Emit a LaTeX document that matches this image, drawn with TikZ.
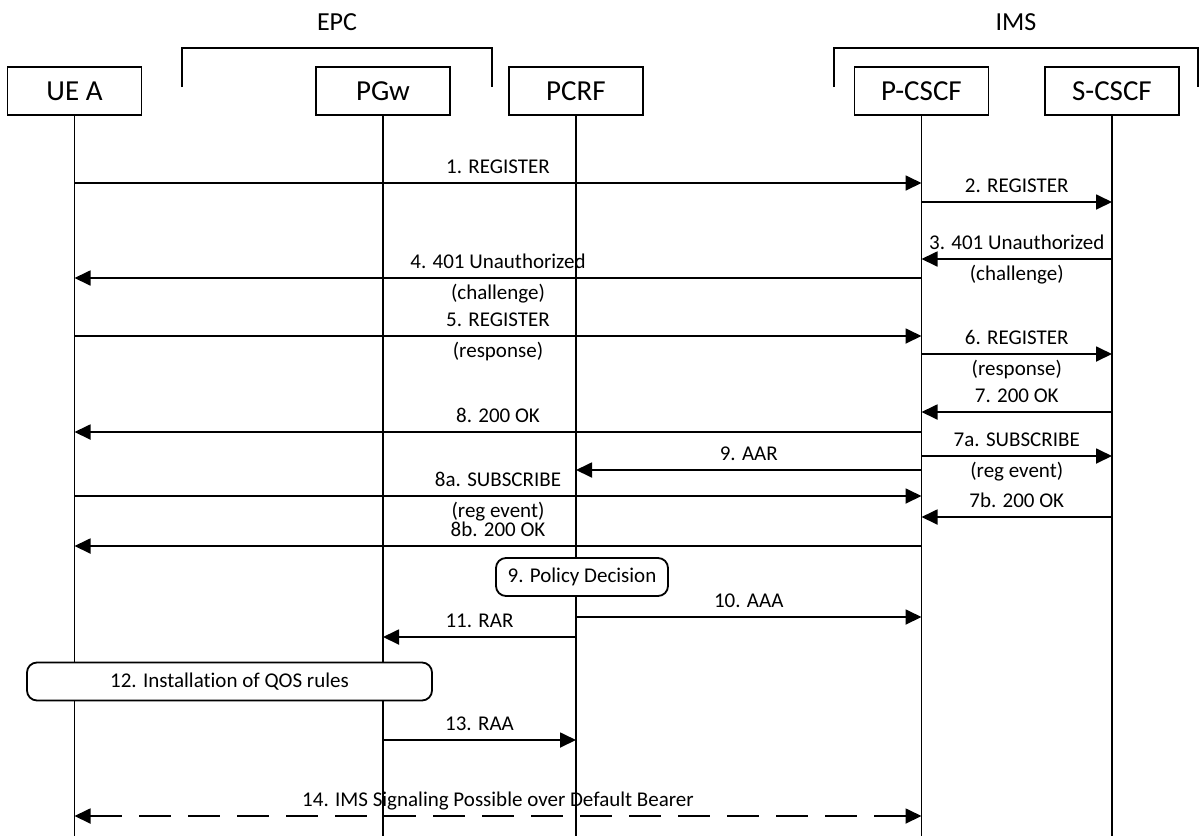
\documentclass[tikz,border=0pt]{standalone}
\usepackage{fontspec}
\setmainfont{Carlito}[Ligatures=NoCommon]
\usepackage{tikz}
\usetikzlibrary{arrows.meta, positioning}

\begin{document}
\begin{tikzpicture}[x=0.5pt, y=-0.5pt, line width=0.9pt,
    entity/.style={draw, minimum width=67pt, minimum height=24pt, inner sep=0pt, font=\fontsize{14.5}{17}\selectfont},
    grouplbl/.style={font=\fontsize{13}{15}\selectfont},
    msg/.style={-{Triangle[length=8pt, width=7.5pt]}},
    dashmsg/.style={{Triangle[length=8pt, width=7.5pt]}-{Triangle[length=8pt, width=7.5pt]}, dash pattern=on 16pt off 8.5pt},
    lbl/.style={inner sep=0pt, text height=6.7pt, text depth=0pt, font=\fontsize{10.5}{12}\selectfont},
    toplbl/.style={lbl, above=4.5pt},
    botlbl/.style={lbl, below=3.5pt},
    note/.style={draw, fill=white, rounded corners=5pt, inner sep=0pt, minimum height=19pt, font=\fontsize{10.5}{12}\selectfont}]
    \useasboundingbox (0,0) rectangle (1200,836);

    % Domains
    \node[grouplbl] (epc) at (337,22) {EPC};
    \node[grouplbl] (ims) at (1016,22) {IMS};
    \draw (182,87) -- (182,48) -- (492,48) -- (492,87);
    \draw (834,87) -- (834,48) -- (1198,48) -- (1198,87);

    % Entities and lifelines
    \node[entity] (ueA) at (74.5,91) {UE A};
    \node[entity] (pgw) at (383,91) {PGw};
    \node[entity] (pcrf) at (576,91) {PCRF};
    \node[entity] (pcscf) at (921.5,91) {P-CSCF};
    \node[entity] (scscf) at (1112,91) {S-CSCF};
    \coordinate (bot) at (0,836);
    \foreach \e in {ueA,pgw,pcrf,pcscf,scscf}
        \draw (\e.south) -- (\e.south |- bot);

    % Message rows
    \foreach \r/\y in {1/183, 2/202, 3/259, 4/278, 5/336, 6/354, 7/412, 8/432, 7a/456, 9/470,
                       8a/496, 7b/517, 8b/546, 10/617, 11/637, 13/740, 14/816}
        \coordinate (r\r) at (0,\y);

    % Registration
    \draw[msg] (ueA |- r1) -- node[toplbl] (t1) {1. REGISTER} (pcscf |- r1);
    \draw[msg] (pcscf |- r2) -- node[toplbl] (t2) {2. REGISTER} (scscf |- r2);
    \draw[msg] (scscf |- r3) -- node[toplbl] (t3) {3. 401 Unauthorized} node[botlbl] (u3) {(challenge)} (pcscf |- r3);
    \draw[msg] (pcscf |- r4) -- node[toplbl] (t4) {4. 401 Unauthorized} node[botlbl] (u4) {(challenge)} (ueA |- r4);
    \draw[msg] (ueA |- r5) -- node[toplbl] (t5) {5. REGISTER} node[botlbl] (u5) {(response)} (pcscf |- r5);
    \draw[msg] (pcscf |- r6) -- node[toplbl] (t6) {6. REGISTER} node[botlbl] (u6) {(response)} (scscf |- r6);
    \draw[msg] (scscf |- r7) -- node[toplbl] (t7) {7. 200 OK} (pcscf |- r7);
    \draw[msg] (pcscf |- r8) -- node[toplbl] (t8) {8. 200 OK} (ueA |- r8);
    \draw[msg] (pcscf |- r7a) -- node[toplbl] (t7a) {7a. SUBSCRIBE} node[botlbl] (u7a) {(reg event)} (scscf |- r7a);
    \draw[msg] (pcscf |- r9) -- node[toplbl] (t9) {9. AAR} (pcrf |- r9);
    \draw[msg] (ueA |- r8a) -- node[toplbl] (t8a) {8a. SUBSCRIBE} node[botlbl] (u8a) {(reg event)} (pcscf |- r8a);
    \draw[msg] (scscf |- r7b) -- node[toplbl] (t7b) {7b. 200 OK} (pcscf |- r7b);
    \draw[msg] (pcscf |- r8b) -- node[toplbl] (t8b) {8b. 200 OK} (ueA |- r8b);

    % Policy and QoS
    \node[note, minimum width=86pt] (policy) at (582,577) {9. Policy Decision};
    \draw[msg] (pcrf |- r10) -- node[toplbl] (t10) {10. AAA} (pcscf |- r10);
    \draw[msg] (pcrf |- r11) -- node[toplbl] (t11) {11. RAR} (pgw |- r11);
    \node[note, minimum width=202.5pt] (qos) at (229.5,681.5) {12. Installation of QOS rules};
    \draw[msg] (pgw |- r13) -- node[toplbl] (t13) {13. RAA} (pcrf |- r13);
    \draw[dashmsg] (ueA |- r14) -- node[toplbl] (t14) {14. IMS Signaling Possible over Default Bearer} (pcscf |- r14);
\end{tikzpicture}
\end{document}
